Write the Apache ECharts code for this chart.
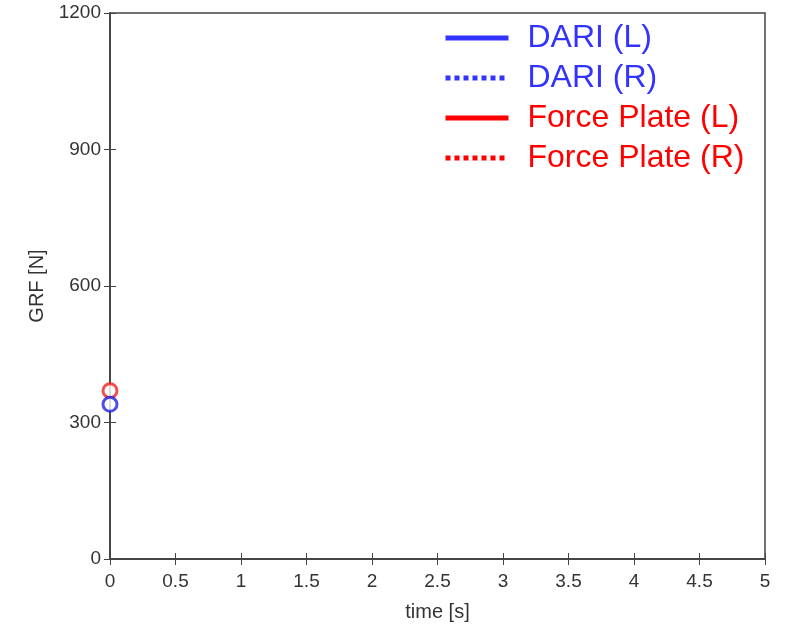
<!DOCTYPE html>
<html><head><meta charset="utf-8">
<script src="https://cdn.jsdelivr.net/npm/echarts@6/dist/echarts.min.js"></script>
<style>html,body{margin:0;padding:0;background:#fff}#c{width:800px;height:627px}</style>
</head><body><div id="c"></div>
<script>
var seriesNames = ['DARI (L)', 'DARI (R)', 'Force Plate (L)', 'Force Plate (R)'];
var seriesColors = ['#3333ff', '#3333ff', '#ff0000', '#ff0000'];
var seriesDashed = [false, true, false, true];
// time-series data shown so far (animation at frame 0: no lines yet)
var dariL = [];
var dariR = [];
var fpL = [];
var fpR = [];
// current-instant markers
var markerTime = [0];
var dariMarker = [340];
var fpMarker = [370];
var xTicks = [0, 0.5, 1, 1.5, 2, 2.5, 3, 3.5, 4, 4.5, 5];
var yTicks = [0, 300, 600, 900, 1200];

var lineData = [dariL, dariR, fpL, fpR];
var axisColor = '#444';
var labelColor = '#333';
var font = "'Liberation Sans', Arial, sans-serif";

var series = seriesNames.map(function (n, i) {
  return {
    name: n, type: 'line', symbol: 'none',
    data: lineData[i],
    lineStyle: { color: seriesColors[i], width: 5, type: seriesDashed[i] ? [5, 4] : 'solid' },
    itemStyle: { color: seriesColors[i] }
  };
});
series.push({
  type: 'scatter', symbol: 'circle', symbolSize: 14,
  data: markerTime.map(function (t, i) { return [t, fpMarker[i]]; }),
  itemStyle: { color: '#fff', borderColor: '#ee2222', borderWidth: 3 }, z: 5
});
series.push({
  type: 'scatter', symbol: 'circle', symbolSize: 14,
  data: markerTime.map(function (t, i) { return [t, dariMarker[i]]; }),
  itemStyle: { color: '#fff', borderColor: '#2222dd', borderWidth: 3 }, z: 6
});

var chart = echarts.init(document.getElementById('c'));
chart.setOption({
  animation: false,
  backgroundColor: '#fff',
  grid: { left: 110, right: 35, top: 13, bottom: 67, show: true, borderColor: axisColor, borderWidth: 1.5 },
  legend: {
    orient: 'vertical', left: 443, top: 22, padding: 0, itemWidth: 63, itemHeight: 14, itemGap: 8,
    itemStyle: { opacity: 0 },
    lineStyle: { width: 5 },
    data: seriesNames.map(function (n, i) {
      return { name: n, textStyle: { color: seriesColors[i] } };
    }),
    textStyle: { fontSize: 32, fontFamily: font, lineHeight: 32, padding: [0, 0, 0, 14] }
  },
  xAxis: [{
    type: 'value', min: xTicks[0], max: xTicks[xTicks.length - 1], interval: xTicks[1] - xTicks[0],
    name: 'time [s]', nameLocation: 'middle', nameGap: 43,
    nameTextStyle: { fontSize: 20, color: labelColor, fontFamily: font },
    axisLine: { lineStyle: { color: axisColor, width: 1.5 } },
    axisTick: { inside: true, length: 6, lineStyle: { color: axisColor } },
    axisLabel: { fontSize: 19, color: labelColor, fontFamily: font, margin: 13, formatter: function (v) { return String(v); } },
    splitLine: { show: false }
  }, {
    type: 'value', position: 'top', min: xTicks[0], max: xTicks[xTicks.length - 1], interval: xTicks[1] - xTicks[0],
    axisLine: { lineStyle: { color: axisColor, width: 1.5 } },
    axisTick: { inside: true, length: 6, lineStyle: { color: axisColor } },
    axisLabel: { show: false }, splitLine: { show: false }
  }],
  yAxis: [{
    type: 'value', min: yTicks[0], max: yTicks[yTicks.length - 1], interval: yTicks[1] - yTicks[0],
    name: 'GRF [N]', nameLocation: 'middle', nameGap: 61,
    nameTextStyle: { fontSize: 20, color: labelColor, fontFamily: font },
    axisLine: { show: true, lineStyle: { color: axisColor, width: 1.5 } },
    axisTick: { show: true, inside: true, length: 6, lineStyle: { color: axisColor } },
    axisLabel: { fontSize: 19, color: labelColor, fontFamily: font, margin: 9, formatter: function (v) { return String(v); } },
    splitLine: { show: false }
  }, {
    type: 'value', position: 'right', min: yTicks[0], max: yTicks[yTicks.length - 1], interval: yTicks[1] - yTicks[0],
    axisLine: { show: true, lineStyle: { color: axisColor, width: 1.5 } },
    axisTick: { show: true, inside: true, length: 6, lineStyle: { color: axisColor } },
    axisLabel: { show: false }, splitLine: { show: false }
  }],
  series: series
});
</script></body></html>
